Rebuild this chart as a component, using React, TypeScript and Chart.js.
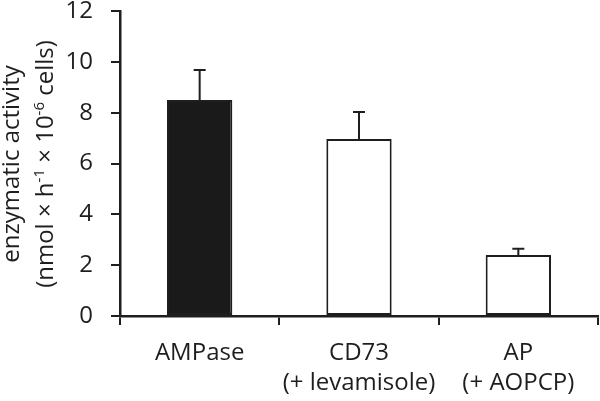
import React, { useEffect, useRef } from "react";
import { Chart, registerables } from "chart.js";

Chart.register(...registerables);

const categories: string[][] = [["AMPase"], ["CD73", "(+ levamisole)"], ["AP", "(+ AOPCP)"]];
const means: number[] = [8.5, 6.96, 2.4];
const errors: number[] = [1.18, 1.07, 0.25];
const barFills: string[] = ["#1a1a1a", "#ffffff", "#ffffff"];
const yTicks: number[] = [0, 2, 4, 6, 8, 10, 12];
const titleLine1 = "enzymatic activity";
const titleLine2: { t: string; sup?: boolean }[] = [
  { t: "(nmol × h" },
  { t: "-1", sup: true },
  { t: " × 10" },
  { t: "-6", sup: true },
  { t: " cells)" },
];

const INK = "#1e1e1e";
const FONT = "'Open Sans', sans-serif";

const errorBarPlugin = {
  id: "errorBars",
  afterDatasetsDraw(chart: any) {
    const ctx = chart.ctx;
    const meta = chart.getDatasetMeta(0);
    const y = chart.scales.y;
    ctx.save();
    ctx.strokeStyle = INK;
    ctx.lineWidth = 2;
    meta.data.forEach((bar: any, i: number) => {
      const x = bar.x;
      const y0 = y.getPixelForValue(means[i]);
      const y1 = y.getPixelForValue(means[i] + errors[i]);
      ctx.beginPath();
      ctx.moveTo(x, y0);
      ctx.lineTo(x, y1);
      ctx.moveTo(x - 6, y1);
      ctx.lineTo(x + 6, y1);
      ctx.stroke();
    });
    ctx.restore();
  },
};

const yTitlePlugin = {
  id: "yTitle",
  afterDraw(chart: any) {
    const ctx = chart.ctx;
    const cy = 164;
    ctx.save();
    ctx.fillStyle = INK;
    ctx.textBaseline = "alphabetic";
    ctx.textAlign = "left";
    // line 1
    ctx.font = `24px ${FONT}`;
    ctx.save();
    ctx.translate(19, cy);
    ctx.rotate(-Math.PI / 2);
    const w1 = ctx.measureText(titleLine1).width;
    ctx.fillText(titleLine1, -w1 / 2, 0);
    ctx.restore();
    // line 2 with superscripts
    ctx.save();
    ctx.translate(53, cy);
    ctx.rotate(-Math.PI / 2);
    const fontFor = (s: boolean) => (s ? `15px ${FONT}` : `24px ${FONT}`);
    let total = 0;
    titleLine2.forEach((seg) => {
      ctx.font = fontFor(!!seg.sup);
      total += ctx.measureText(seg.t).width;
    });
    let x = -total / 2;
    titleLine2.forEach((seg) => {
      ctx.font = fontFor(!!seg.sup);
      ctx.fillText(seg.t, x, seg.sup ? -9 : 0);
      x += ctx.measureText(seg.t).width;
    });
    ctx.restore();
    ctx.restore();
  },
};

export default function App() {
  const ref = useRef<HTMLCanvasElement>(null);
  useEffect(() => {
    if (!ref.current) return;
    const chart = new Chart(ref.current, {
      type: "bar",
      data: {
        labels: categories,
        datasets: [
          {
            data: means,
            backgroundColor: barFills,
            borderColor: INK,
            borderWidth: 2,
            borderSkipped: false,
            barPercentage: 0.41,
            categoryPercentage: 1,
          },
        ],
      },
      options: {
        animation: false,
        responsive: true,
        maintainAspectRatio: false,
        layout: { padding: { top: 11, right: 2, left: 0, bottom: 0 } },
        plugins: { legend: { display: false }, tooltip: { enabled: false } },
        scales: {
          x: {
            offset: true,
            grid: {
              display: true,
              offset: true,
              drawOnChartArea: false,
              drawTicks: true,
              tickLength: 9,
              color: INK,
              lineWidth: 2,
            },
            border: { display: true, color: INK, width: 2.5 },
            ticks: {
              color: INK,
              padding: 13,
              maxRotation: 0,
              autoSkip: false,
              font: { family: FONT, size: 24, lineHeight: 1.25 },
            },
            afterFit(scale: any) {
              scale.height = 85;
              scale.paddingLeft = 0;
              scale.paddingRight = 0;
            },
          },
          y: {
            min: 0,
            max: 12,
            afterBuildTicks(scale: any) {
              scale.ticks = yTicks.map((v) => ({ value: v }));
            },
            grid: {
              display: true,
              drawOnChartArea: false,
              drawTicks: true,
              tickLength: 9,
              color: INK,
              lineWidth: 2,
            },
            border: { display: true, color: INK, width: 2.5 },
            ticks: {
              color: INK,
              padding: 18,
              font: { family: FONT, size: 24 },
            },
            afterFit(scale: any) {
              scale.width = 120;
              scale.paddingTop = 0;
              scale.paddingBottom = 0;
            },
          },
        },
      },
      plugins: [errorBarPlugin, yTitlePlugin],
    });
    return () => chart.destroy();
  }, []);
  return (
    <div style={{ position: "fixed", left: 0, top: 0, width: 600, height: 401, background: "#fff" }}>
      <canvas ref={ref} />
    </div>
  );
}
